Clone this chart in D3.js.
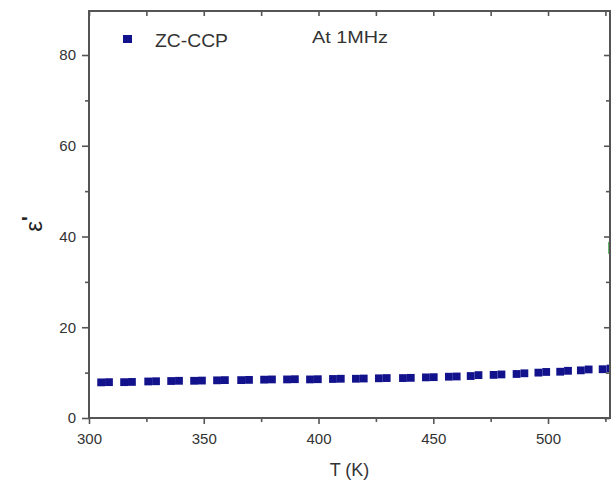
<!DOCTYPE html>
<html>
<head>
<meta charset="utf-8">
<script src="https://cdn.jsdelivr.net/npm/d3@7"></script>
<style>
  body { margin: 0; background: #fff; }
  svg { font-family: "Liberation Sans", Arial, sans-serif; }
</style>
</head>
<body>
<svg id="chart" width="612" height="480"></svg>
<script>
const temps = [307, 317, 327.5, 337.5, 347.5, 357.5, 368, 378, 388, 398, 408, 418,
  428, 438.5, 448.5, 458.5, 468, 478, 488, 497.5, 507, 516, 525.5];
const epsFirst = [7.85, 7.9, 8.05, 8.15, 8.2, 8.3, 8.35, 8.45, 8.5, 8.5, 8.6, 8.65,
  8.75, 8.8, 8.95, 9.1, 9.25, 9.5, 9.7, 10.0, 10.2, 10.5, 10.75];
const epsSecond = [7.9, 7.95, 8.1, 8.2, 8.25, 8.35, 8.4, 8.5, 8.55, 8.55, 8.65, 8.7,
  8.8, 8.85, 9.0, 9.15, 9.45, 9.6, 9.85, 10.15, 10.4, 10.7, 10.9];
const pairOffset = 1.7;
// another series only peeking in at the right edge
const otherT = [528];
const otherEps = [37.5];

const xTicks = [300, 350, 400, 450, 500];
const xMinor = [325, 375, 425, 475, 525];
const yTicks = [0, 20, 40, 60, 80];
const yMinor = [10, 30, 50, 70];

const margin = { top: 11, right: 2, bottom: 62, left: 89 };
const W = 612, H = 480;
const w = W - margin.left - margin.right;
const h = H - margin.top - margin.bottom;

const svg = d3.select("#chart");
const g = svg.append("g").attr("transform", `translate(${margin.left},${margin.top})`);

const x = d3.scaleLinear().domain([300, 527]).range([0, w]);
const y = d3.scaleLinear().domain([0, 89.7]).range([h, 0]);

const frameColor = "#555";

g.append("clipPath").attr("id", "clip")
  .append("rect").attr("width", w).attr("height", h);

// points
const points = [];
temps.forEach((t, i) => {
  points.push({ t: t - pairOffset, e: epsFirst[i] });
  points.push({ t: t + pairOffset, e: epsSecond[i] });
});
const sq = 7.8;
const plot = g.append("g").attr("clip-path", "url(#clip)");
plot.selectAll(".pt").data(points).join("rect")
  .attr("class", "pt")
  .attr("x", d => x(d.t) - sq / 2)
  .attr("y", d => y(d.e) - sq / 2)
  .attr("width", sq).attr("height", sq)
  .attr("fill", "#12128c");
plot.selectAll(".other").data(otherT).join("rect")
  .attr("class", "other")
  .attr("x", d => x(d) - 4)
  .attr("y", (d, i) => y(otherEps[i]) - 6)
  .attr("width", 8).attr("height", 12)
  .attr("fill", "#2a9a2a");

// axes
const styleAxis = sel => {
  sel.select(".domain").remove();
  sel.selectAll("line").attr("stroke", frameColor).attr("stroke-width", 1.6);
  sel.selectAll("text").attr("fill", "#333").style("font-size", "15px");
};

g.append("g").attr("transform", `translate(0,${h})`)
  .call(d3.axisBottom(x).tickValues(xTicks).tickSize(6).tickPadding(9).tickFormat(d3.format("d")))
  .call(styleAxis);
g.append("g").attr("transform", `translate(0,${h})`)
  .call(d3.axisBottom(x).tickValues(xMinor).tickSize(4).tickFormat(""))
  .call(styleAxis);

g.append("g")
  .call(d3.axisLeft(y).tickValues(yTicks).tickSize(7).tickPadding(6))
  .call(styleAxis);
g.append("g")
  .call(d3.axisLeft(y).tickValues(yMinor).tickSize(4).tickFormat(""))
  .call(styleAxis);

// top and right ticks point inward
g.append("g")
  .call(d3.axisBottom(x).tickValues(xTicks.concat(xMinor)).tickSize(5).tickFormat(""))
  .call(styleAxis);
g.append("g").attr("transform", `translate(${w},0)`)
  .call(d3.axisLeft(y).tickValues(yTicks).tickSize(6).tickFormat(""))
  .call(styleAxis);
g.append("g").attr("transform", `translate(${w},0)`)
  .call(d3.axisLeft(y).tickValues(yMinor).tickSize(4).tickFormat(""))
  .call(styleAxis);

// frame
g.append("rect")
  .attr("width", w).attr("height", h)
  .attr("fill", "none")
  .attr("stroke", frameColor)
  .attr("stroke-width", 2);

// axis titles
svg.append("text")
  .attr("x", margin.left + w / 2).attr("y", 476)
  .attr("text-anchor", "middle")
  .attr("fill", "#333")
  .style("font-size", "18px")
  .text("T (K)");
const yTitle = svg.append("text")
  .attr("transform", `translate(42,224) rotate(-90)`)
  .attr("text-anchor", "middle")
  .attr("fill", "#222")
  .style("font-size", "24px");
yTitle.append("tspan").text("ε");
yTitle.append("tspan").attr("dy", -6).style("font-size", "20px").style("font-weight", "bold").text("'");

// legend
g.append("rect")
  .attr("x", 34).attr("y", 24)
  .attr("width", 9).attr("height", 8)
  .attr("fill", "#12128c");
g.append("text")
  .attr("x", 66).attr("y", 36)
  .attr("fill", "#333")
  .attr("textLength", 73)
  .attr("lengthAdjust", "spacingAndGlyphs")
  .style("font-size", "18px")
  .text("ZC-CCP");
g.append("text")
  .attr("x", 223).attr("y", 32)
  .attr("fill", "#333")
  .attr("textLength", 76)
  .attr("lengthAdjust", "spacingAndGlyphs")
  .style("font-size", "16.5px")
  .text("At 1MHz");
</script>
</body>
</html>
